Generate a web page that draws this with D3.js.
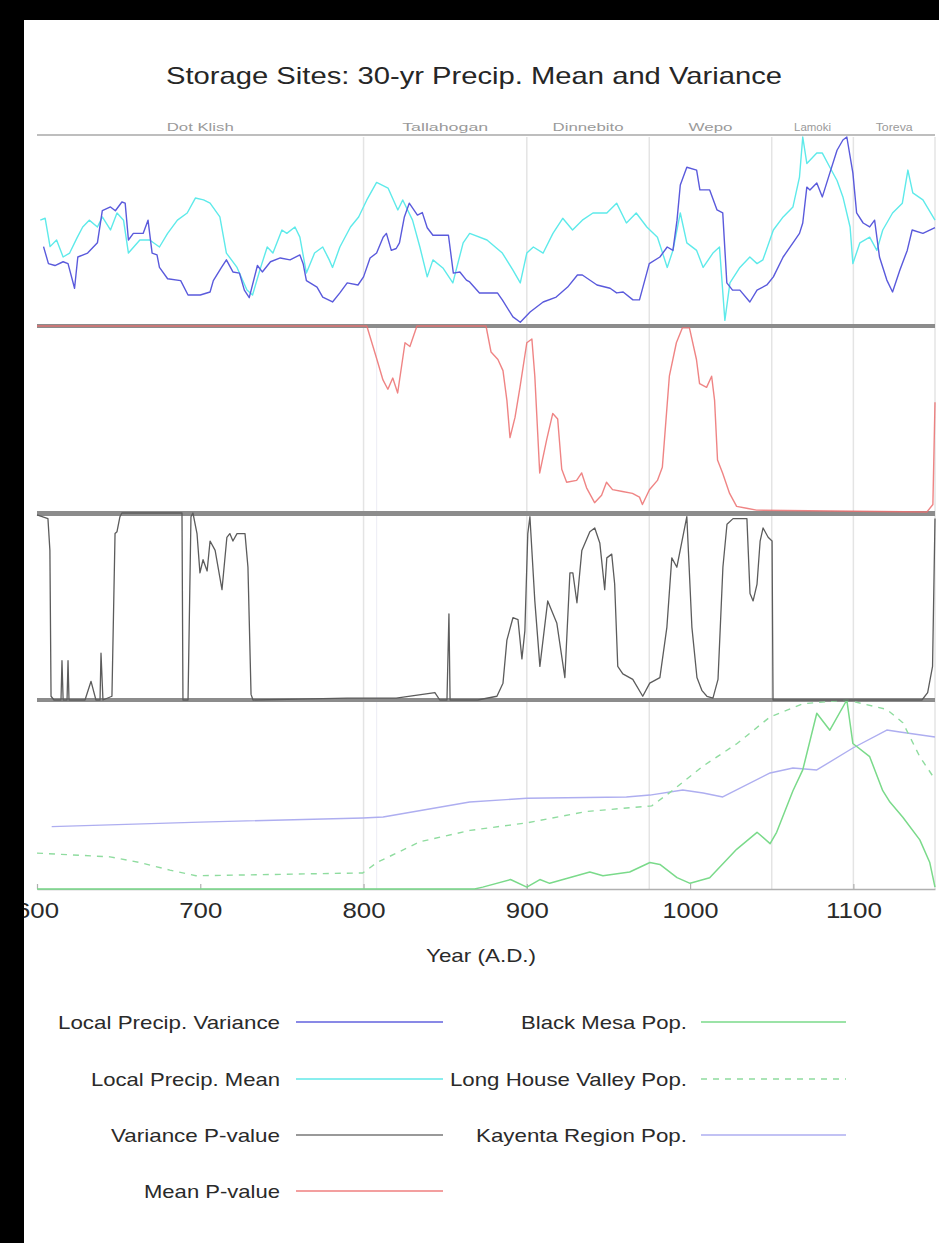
<!DOCTYPE html>
<html>
<head>
<meta charset="utf-8">
<script src="https://cdn.jsdelivr.net/npm/d3@7"></script>
<style>
  html, body { margin: 0; padding: 0; background: #fff; }
  svg { display: block; font-family: "Liberation Sans", Arial, Helvetica, sans-serif; }
</style>
</head>
<body>
<svg id="chart" width="939" height="1243"></svg>
<script>
/* Storage Sites: 30-yr precip mean/variance, p-values and population */

const YEAR_DOMAIN = [600, 1150];
const TICK_YEARS = [600, 700, 800, 900, 1000, 1100];

const SITES = ["Dot Klish", "Tallahogan", "Dinnebito", "Wepo", "Lamoki", "Toreva"];
const SITE_BOUNDS = [600, 800, 900, 975, 1050, 1100, 1150];
const EXTRA_MARK = 808;

// [year, value] – precip in arbitrary units (0..100 = panel height)
const precipVariance = [
  [604,42],[607,33],[611,32],[616,34],[619,33],[623,20],[625,36.5],[631,38.6],[637,44],[640,61],
  [645,63],[648,61],[652,65.6],[654,65],[656,45.5],[659,49],[665,49],[668,56],[670.5,38.6],[673.5,37.6],
  [675,31],[680,25],[688,24],[692.5,16.4],[700,16.4],[706,18],[708,24],[713,31],[716,35],[720,28.6],
  [724,28],[727,19],[730,15],[735,32],[738,28.6],[743,34],[749,36],[755,35],[761,37.6],[763,33],
  [765,24],[771.5,20.6],[775,15.3],[781,12.7],[785.5,17.5],[790,22.8],[796.6,21.7],[800,26],[804,36],[808,38.6],
  [812,47],[814,49],[817,40],[820,41],[822,44],[825,57.7],[828,65],[833,58.7],[836,60],[839,52],
  [842.5,48],[852,48],[855,28],[859,28.6],[863,24.3],[865,23.3],[871,17.5],[882,17.5],[885,13.8],[891.5,4.8],
  [896,2],[902,7.4],[910,12.7],[918,15.3],[925,20.6],[931,27],[934,27],[943,21.7],[951,20],[955,17.5],
  [959,18],[965,13.8],[969,13.8],[975,33],[981.5,36.5],[986,41.8],[989.5,40],[992,56],[994,74.6],[998,84],
  [1004,82.5],[1006,72],[1012,72],[1016.5,61.4],[1020,59.8],[1022.5,22.8],[1026,19],[1030.5,19],[1036.6,12.7],[1041,19],
  [1047,21.7],[1051,26],[1057,36.5],[1063,44],[1067,49],[1069,54.5],[1071.5,73.5],[1073.4,72],[1077.6,75.7],[1081,68.3],
  [1085.6,81],[1090,93],[1093.6,98.4],[1096,100],[1099.7,81],[1102,59.8],[1106,54.5],[1110,52.4],[1113,56],[1116,36.5],
  [1120.5,24.3],[1124,18],[1128.5,29.6],[1133,40],[1136,50.8],[1142.6,49],[1150,52]
];

const precipMean = [
  [602,56],[605,57],[608,42],[612,45.5],[616,36.5],[620,38.6],[624.5,46.6],[628,52.4],[632,56],[637,52.4],
  [640,57.7],[645,50.8],[649,59.8],[653,56],[656,38.6],[663,45.5],[669,45.5],[675,41.8],[680,49],[686,56],
  [692,59.8],[697,67.7],[702,66.7],[706,65],[712,57.7],[716,38.6],[722.5,31],[728.6,19],[732,16.4],[737,31],
  [741,41.8],[744.5,38.6],[750,50.8],[753,49],[758,52.4],[761,47],[765,28],[770,38.6],[775,41.8],[779,35],
  [781,31],[785.5,41.8],[792,52.4],[797,57.7],[802,66.7],[808,76],[815,73],[821,61.4],[824,66.7],[830,56],
  [834.5,41.8],[839,26],[842.5,35],[848.6,30.7],[854.7,22.8],[861,44],[865,49],[875.6,45.5],[885,38.6],[891.5,29.6],
  [896,22.8],[900,38.6],[904,41.8],[910,38.6],[916,49],[922,57],[928,50.8],[934,56],[940.5,59.8],[949,59.8],
  [955,65],[961,54.5],[967,59.8],[973.5,52.4],[980,47],[986,31],[989.5,40],[994,59.8],[998,44],[1004,40],
  [1008,31],[1014,38.6],[1018,41.8],[1021.3,3],[1024.4,22.8],[1030.5,31],[1036.6,36.5],[1041,33],[1044.6,35],[1051,50.8],
  [1057,57.7],[1063,63],[1067,78.8],[1069,100],[1071.5,86],[1077.6,91.5],[1081,91.5],[1085.6,84],[1090,77],[1093.6,68.3],
  [1098,52.4],[1099.7,33],[1104,44],[1110,47],[1114.4,40],[1118,50.8],[1124,59.8],[1130,65],[1133.4,82.5],[1136.4,70.4],
  [1142.6,66.7],[1150,56]
];

// [year, p]
const meanPValue = [
  [600,1],[802,1],[808.2,0.82],[811.9,0.71],[814.9,0.66],[817.9,0.72],[820.9,0.64],[825.4,0.91],[828.4,0.89],[832.7,1],
  [875,1],[878.1,0.86],[882.3,0.82],[885.4,0.76],[887.8,0.6],[889.7,0.4],[892.8,0.51],[895.8,0.67],[900,0.91],[903.1,0.93],
  [904.9,0.73],[907.9,0.21],[912.2,0.39],[915.9,0.53],[918.9,0.5],[921.4,0.23],[924.4,0.16],[930.5,0.17],[933.6,0.21],[936.6,0.13],
  [941.5,0.05],[945.8,0.09],[948.8,0.16],[952.5,0.12],[958.6,0.11],[964.7,0.1],[969,0.08],[970.8,0.04],[975.1,0.12],[980,0.17],
  [983,0.24],[987.3,0.73],[991.6,0.91],[995.3,0.99],[999.6,0.99],[1003.9,0.82],[1005.8,0.69],[1010.1,0.67],[1013.2,0.73],[1015,0.6],
  [1016.8,0.28],[1019.9,0.21],[1024.2,0.1],[1028.5,0.03],[1034.6,0.02],[1040.7,0.01],[1145,0],[1148.7,0.04],[1150,0.59]
];

const varPValue = [
  [600,0.99],[606.7,0.97],[607.9,0.8],[608.6,0.02],[610.4,0],[614.7,0],[615.3,0.21],[616,0],[618.4,0],[619,0.21],
  [619.6,0],[629.4,0],[633.1,0.1],[636.1,0],[638.6,0],[639.2,0.25],[640.4,0],[645.9,0.02],[647.8,0.89],[649,0.9],
  [650.8,0.98],[652,1],[688.8,1],[689.4,0],[692.5,0],[694.3,0.98],[695.5,1],[698,0.89],[699.8,0.68],[701.7,0.75],
  [704.2,0.69],[706,0.85],[709.1,0.8],[713.3,0.59],[716.3,0.87],[718.1,0.89],[720,0.85],[722.5,0.89],[727.4,0.89],[729.2,0.71],
  [731.1,0.03],[732.3,0],[760,0.005],[790,0.01],[820,0.01],[843.7,0.04],[846.7,0],[851.1,0],[852.3,0.46],[853,0],
  [870,0],[881.7,0.02],[885.4,0.09],[887.8,0.32],[891.5,0.44],[894.6,0.43],[897,0.22],[898.8,0.37],[900.6,0.89],[901.9,0.98],
  [904.9,0.53],[908,0.18],[912.8,0.53],[918.4,0.41],[923.3,0.12],[926.4,0.68],[928.2,0.68],[930.7,0.52],[933.7,0.8],[938.6,0.9],
  [941.6,0.92],[944.7,0.84],[947.7,0.59],[949,0.76],[952,0.78],[953.8,0.62],[955.7,0.18],[958.8,0.14],[964.9,0.11],[971,0.02],
  [975.3,0.09],[981.5,0.12],[985.8,0.39],[988.8,0.76],[991.9,0.71],[998,0.98],[1001.1,0.39],[1004.2,0.12],[1007.3,0.05],[1010.3,0.02],
  [1014,0.01],[1017.1,0.11],[1020.1,0.71],[1022.6,0.94],[1026.3,0.97],[1034.8,0.97],[1036.7,0.57],[1038.6,0.53],[1041,0.62],[1042.9,0.85],
  [1044.7,0.92],[1047.8,0.87],[1050.2,0.85],[1050.8,0],[1142,0],[1145.5,0.04],[1148.5,0.18],[1150,0.97]
];

// population, relative (1 = peak)
const blackMesaPop = [
  [600,0],[868,0],[873,0.01],[890,0.05],[900,0.01],[908,0.05],[914,0.03],[926,0.06],[938.6,0.09],[946.6,0.07],
  [963,0.09],[975.4,0.14],[981.5,0.13],[992,0.06],[1000,0.03],[1012,0.06],[1028.5,0.21],[1041,0.3],[1049,0.24],[1053,0.3],
  [1063,0.52],[1069,0.63],[1077.6,0.93],[1085.6,0.84],[1096,1],[1099.7,0.77],[1110,0.7],[1118,0.52],[1122.4,0.46],[1130.3,0.38],
  [1140.7,0.26],[1146.8,0.14],[1150,0.01]
];

const longHouseValleyPop = [
  [600,0.19],[644.7,0.17],[663,0.14],[681.4,0.1],[697.4,0.07],[799.6,0.085],[808.2,0.14],[834.5,0.25],[865.2,0.31],[900,0.35],
  [936.7,0.41],[976.5,0.44],[987.5,0.51],[1007.9,0.65],[1028.8,0.77],[1048.9,0.91],[1069,0.98],[1096,1],[1120.5,0.95],[1130.3,0.88],
  [1140.7,0.7],[1150,0.58]
];

const kayentaPop = [
  [609,0.33],[700,0.354],[799.6,0.376],[812,0.381],[865,0.46],[900,0.48],[961,0.487],[975.4,0.497],[995.5,0.524],[1008,0.508],
  [1020,0.487],[1049,0.614],[1063,0.64],[1077.6,0.63],[1099.7,0.746],[1120.5,0.841],[1128.5,0.831],[1150,0.804]
];

const LEGEND_LEFT = [
  { label: "Local Precip. Variance", color: "#6262de", dash: null, len: 222 },
  { label: "Local Precip. Mean", color: "#62e8e8", dash: null, len: 189 },
  { label: "Variance P-value", color: "#777777", dash: null, len: 169 },
  { label: "Mean P-value", color: "#ef7f7f", dash: null, len: 136 }
];
const LEGEND_RIGHT = [
  { label: "Black Mesa Pop.", color: "#7ada8a", dash: null, len: 166 },
  { label: "Long House Valley Pop.", color: "#8fdc9f", dash: "6,6", len: 237 },
  { label: "Kayenta Region Pop.", color: "#aeaef0", dash: null, len: 211 }
];

/* ---------- layout ---------- */
const X0 = 37, X1 = 935;
const P1 = [137, 326], P2 = [326, 512], P3 = [513, 700], P4 = [700, 889];
const LEGEND_ROWS = [1022, 1079, 1135, 1191];

const svg = d3.select("#chart");

const x = d3.scaleLinear().domain(YEAR_DOMAIN).range([X0, X1]);
const yPrecip = d3.scaleLinear().domain([0, 100]).range([P1[1], P1[0]]);
const yMeanP = d3.scaleLinear().domain([0, 1]).range([P2[1], P2[0]]);
const yVarP = d3.scaleLinear().domain([0, 1]).range([P3[1], P3[0]]);
const yPop = d3.scaleLinear().domain([0, 1]).range([P4[1], P4[0]]);

function lineFor(y) {
  return d3.line().x(d => x(d[0])).y(d => y(d[1]));
}

// the original is a bit wide, so fix text widths
function fit(sel, len) {
  return sel.attr("textLength", len).attr("lengthAdjust", "spacingAndGlyphs");
}

svg.append("rect").attr("width", 939).attr("height", 1243).attr("fill", "#fff");

// title
fit(svg.append("text")
  .attr("x", 474).attr("y", 84)
  .attr("text-anchor", "middle")
  .attr("font-size", 24)
  .attr("fill", "#262626")
  .text("Storage Sites: 30-yr Precip. Mean and Variance"), 616);

// vertical period boundaries
const gGrid = svg.append("g");
gGrid.selectAll("line.bound")
  .data(SITE_BOUNDS.slice(1))
  .join("line")
  .attr("class", "bound")
  .attr("x1", d => x(d)).attr("x2", d => x(d))
  .attr("y1", P1[0]).attr("y2", P4[1])
  .attr("stroke", "#e4e4e4")
  .attr("stroke-width", 1.5);
gGrid.append("line")
  .attr("x1", x(EXTRA_MARK)).attr("x2", x(EXTRA_MARK))
  .attr("y1", P2[0]).attr("y2", P4[1])
  .attr("stroke", "#efeff6")
  .attr("stroke-width", 1.2);

// site header
svg.append("line")
  .attr("x1", X0).attr("x2", X1)
  .attr("y1", 135).attr("y2", 135)
  .attr("stroke", "#a8a8a8").attr("stroke-width", 1.5);

const siteLen = [67, 86, 71, 44, 37, 37];
svg.append("g").selectAll("text")
  .data(SITES)
  .join("text")
  .attr("x", (d, i) => x((SITE_BOUNDS[i] + SITE_BOUNDS[i + 1]) / 2))
  .attr("y", 131)
  .attr("text-anchor", "middle")
  .attr("font-size", 11)
  .attr("fill", "#9a9a9a")
  .attr("textLength", (d, i) => siteLen[i])
  .attr("lengthAdjust", "spacingAndGlyphs")
  .text(d => d);

// panel separators (p = 0 / 1 reference)
svg.append("g").selectAll("line")
  .data([P2[0], P3[0] + 0.5, P4[0]])
  .join("line")
  .attr("x1", X0).attr("x2", X1)
  .attr("y1", d => d).attr("y2", d => d)
  .attr("stroke", "#8c8c8c")
  .attr("stroke-width", (d, i) => (i === 1 ? 5 : 4));

// x axis
const axis = d3.axisBottom(x)
  .tickValues(TICK_YEARS)
  .tickFormat(d3.format("d"))
  .tickSizeInner(-5)
  .tickSizeOuter(0)
  .tickPadding(13);
const gAxis = svg.append("g")
  .attr("transform", `translate(0,${P4[1]})`)
  .call(axis);
gAxis.select(".domain").attr("stroke", "#b0b0b0").attr("stroke-width", 1.5);
gAxis.selectAll(".tick line").attr("stroke", "#b0b0b0").attr("stroke-width", 1.2);
gAxis.selectAll(".tick text")
  .attr("font-size", 22)
  .attr("fill", "#2a2a2a")
  .attr("font-family", "Liberation Sans, Arial, sans-serif")
  .attr("textLength", d => (d >= 1000 ? 56 : 43))
  .attr("lengthAdjust", "spacingAndGlyphs");

fit(svg.append("text")
  .attr("x", 481).attr("y", 962)
  .attr("text-anchor", "middle")
  .attr("font-size", 19)
  .attr("fill", "#2a2a2a")
  .text("Year (A.D.)"), 110);

/* ---------- series ---------- */
const gLines = svg.append("g").attr("fill", "none").attr("stroke-linejoin", "round");

function drawSeries(data, y, color, width, dash) {
  gLines.append("path")
    .datum(data)
    .attr("d", lineFor(y))
    .attr("stroke", color)
    .attr("stroke-width", width)
    .attr("stroke-dasharray", dash);
}

drawSeries(kayentaPop, yPop, "#aeaef0", 1.4, null);
drawSeries(longHouseValleyPop, yPop, "#8fdc9f", 1.4, "6,6");
drawSeries(blackMesaPop, yPop, "#7ada8a", 1.5, null);

drawSeries(varPValue, yVarP, "#5c5c5c", 1.3, null);
drawSeries(meanPValue, yMeanP, "rgba(236,110,110,0.85)", 1.4, null);

drawSeries(precipMean, yPrecip, "#5eeaea", 1.4, null);
drawSeries(precipVariance, yPrecip, "#5a5adc", 1.4, null);

/* ---------- legend ---------- */
function drawLegend(items, textEnd, lineX0, lineX1) {
  const g = svg.append("g");
  items.forEach((it, i) => {
    fit(g.append("text")
      .attr("x", textEnd).attr("y", LEGEND_ROWS[i] + 7)
      .attr("text-anchor", "end")
      .attr("font-size", 19)
      .attr("fill", "#2a2a2a")
      .text(it.label), it.len);
    g.append("line")
      .attr("x1", lineX0).attr("x2", lineX1)
      .attr("y1", LEGEND_ROWS[i]).attr("y2", LEGEND_ROWS[i])
      .attr("stroke", it.color)
      .attr("stroke-width", 1.5)
      .attr("stroke-dasharray", it.dash);
  });
}
drawLegend(LEGEND_LEFT, 280, 296, 443);
drawLegend(LEGEND_RIGHT, 687, 701, 846);

// black frame on top/left of the original screenshot
svg.append("rect").attr("x", 0).attr("y", 0).attr("width", 939).attr("height", 20).attr("fill", "#000");
svg.append("rect").attr("x", 0).attr("y", 0).attr("width", 24).attr("height", 1243).attr("fill", "#000");
</script>
</body>
</html>
